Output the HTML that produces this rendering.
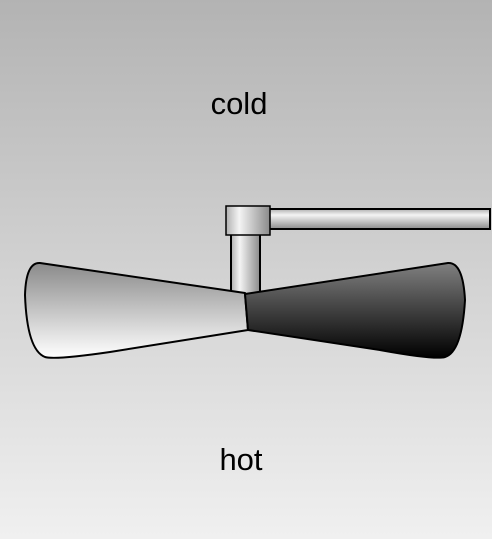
<!DOCTYPE html>
<html><head><meta charset="utf-8"><style>
html,body{margin:0;padding:0;width:492px;height:539px;overflow:hidden}
</style></head><body>
<svg width="492" height="539" viewBox="0 0 492 539" xmlns="http://www.w3.org/2000/svg">
<defs>
<linearGradient id="bg" x1="0" y1="0" x2="0" y2="1"><stop offset="0" stop-color="#b3b3b3"/><stop offset="1" stop-color="#f0f0f0"/></linearGradient>
<linearGradient id="lb" x1="0" y1="0" x2="0" y2="1"><stop offset="0" stop-color="#8a8a8a"/><stop offset="1" stop-color="#ffffff"/></linearGradient>
<linearGradient id="rb" x1="0" y1="0" x2="0" y2="1"><stop offset="0" stop-color="#808080"/><stop offset="1" stop-color="#000000"/></linearGradient>
<linearGradient id="vx" x1="0" y1="0" x2="1" y2="0"><stop offset="0" stop-color="#b0b0b0"/><stop offset="0.3" stop-color="#f4f4f4"/><stop offset="1" stop-color="#8a8a8a"/></linearGradient>
<linearGradient id="hy" x1="0" y1="0" x2="0" y2="1"><stop offset="0" stop-color="#b0b0b0"/><stop offset="0.3" stop-color="#f4f4f4"/><stop offset="1" stop-color="#8a8a8a"/></linearGradient>
</defs>
<rect x="0" y="0" width="492" height="539" fill="url(#bg)"/>
<text x="239" y="114" text-anchor="middle" font-family="Liberation Sans, sans-serif" font-size="31" fill="#000">cold</text>
<text x="241" y="470" text-anchor="middle" font-family="Liberation Sans, sans-serif" font-size="31" fill="#000">hot</text>
<rect x="269" y="209" width="221" height="20" fill="url(#hy)" stroke="#000" stroke-width="2"/>
<rect x="231" y="234" width="29" height="60" fill="url(#vx)" stroke="#000" stroke-width="2"/>
<rect x="226" y="206" width="44" height="29" fill="url(#vx)" stroke="#000" stroke-width="1.5"/>
<path d="M245,293 L40,263 Q26,262 25,295 Q27,350 45,357 Q55,360 110,352 L248,330 Z" fill="url(#lb)" stroke="#000" stroke-width="2" stroke-linejoin="round"/>
<path d="M245,294 L448,263 Q463,262 465,300 Q462,352 445,357 Q435,360 380,350 L248,330 Z" fill="url(#rb)" stroke="#000" stroke-width="2" stroke-linejoin="round"/>
</svg>
</body></html>
